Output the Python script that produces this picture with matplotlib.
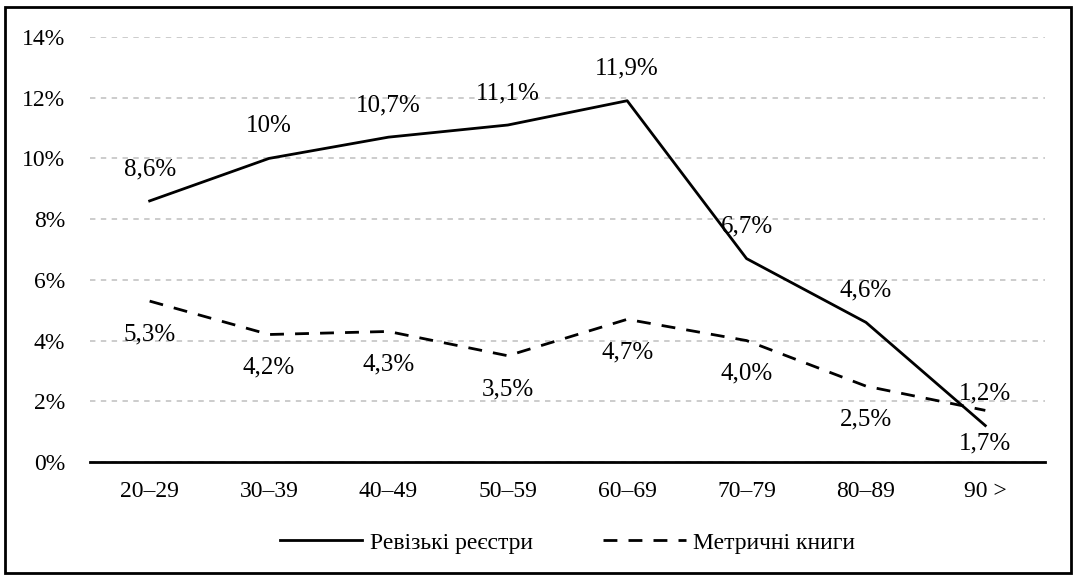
import matplotlib.pyplot as plt
from matplotlib.patches import Rectangle

plt.rcParams['font.family'] = ['Liberation Serif', 'DejaVu Serif']

groups = ['20–29', '30–39', '40–49', '50–59', '60–69', '70–79', '80–89', '90 >']
revision = [8.6, 10.0, 10.7, 11.1, 11.9, 6.7, 4.6, 1.2]
metric = [5.3, 4.2, 4.3, 3.5, 4.7, 4.0, 2.5, 1.7]
revision_lbl = ['8,6%', '10%', '10,7%', '11,1%', '11,9%', '6,7%', '4,6%', '1,2%']
metric_lbl = ['5,3%', '4,2%', '4,3%', '3,5%', '4,7%', '4,0%', '2,5%', '1,7%']
yticks = [0, 2, 4, 6, 8, 10, 12, 14]

fig = plt.figure(figsize=(10.8, 5.75), dpi=100)
ax = fig.add_axes([0.0833, 0.1965, 0.8843, 0.7392])

x = range(len(groups))
ax.plot(x, revision, color='black', lw=2, label='Ревізькі реєстри')
ax.plot(x, metric, color='black', lw=2, ls=(0, (5, 4)), label='Метричні книги')

for i in x:
    ax.annotate(revision_lbl[i], (i, revision[i]), xytext=(0, 23), textcoords='offset points',
                ha='center', va='center', fontsize=18)
    ax.annotate(metric_lbl[i], (i, metric[i]), xytext=(0, -24), textcoords='offset points',
                ha='center', va='center', fontsize=18)

ax.set_xlim(-0.5, 7.5)
ax.set_ylim(0, 14)
ax.set_yticks(yticks)
ax.set_yticklabels([f'{v}%' for v in yticks])
ax.set_xticks(list(x))
ax.set_xticklabels(groups)
ax.tick_params(length=0, labelsize=17, pad=14)
ax.tick_params(axis='y', pad=18)
ax.grid(axis='y', color='#c8c8c8', ls=(0, (3, 3)), lw=1.3)
ax.set_axisbelow(True)
for s in ['top', 'right', 'left']:
    ax.spines[s].set_visible(False)
ax.spines['bottom'].set_linewidth(2)

ax.legend(loc='center', bbox_to_anchor=(0.5, -0.19), ncol=2, frameon=False,
          fontsize=17, handlelength=3.5, columnspacing=3, handletextpad=0.3)

fig.patches.append(Rectangle((0.005, 0.003), 0.987, 0.984, transform=fig.transFigure,
                             fill=False, edgecolor='black', lw=2))
fig.text(0.995, 1.015, 'Додаток 3.3', ha='right', va='bottom', fontsize=17)

fig.savefig('out.png', dpi=100)
